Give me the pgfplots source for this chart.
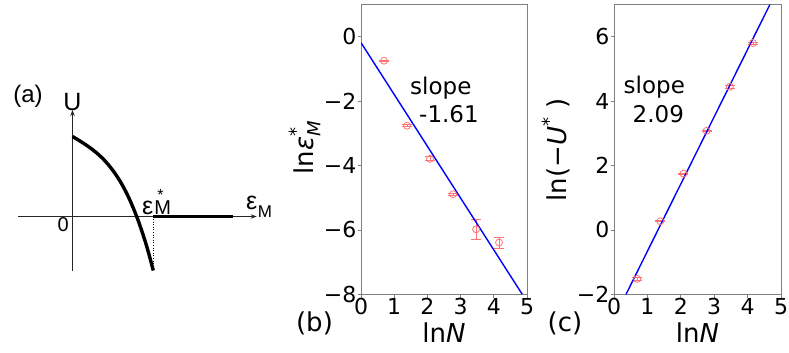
\documentclass[border=0pt]{standalone}
\usepackage{pgfplots}
\pgfplotsset{compat=1.18}
\usepackage{pgfplotstable}
\usepackage{fontspec}
\setmainfont{DejaVu Sans}
\newfontfamily\arialfont{Liberation Sans}
\usetikzlibrary{arrows.meta}

\pgfplotstableread{
x y e
0.693 -0.74 0.02
1.386 -2.76 0.03
2.079 -3.79 0.06
2.773 -4.89 0.03
3.466 -5.98 0.30
4.159 -6.39 0.17
}\dataB
\pgfplotstableread{
x y e
0.693 -1.52 0.05
1.386 0.27 0.02
2.079 1.75 0.02
2.773 3.08 0.01
3.466 4.45 0.04
4.159 5.81 0.03
}\dataC

\newcommand{\tickfont}{\fontsize{22}{24}\selectfont}
\newcommand{\labfont}{\fontsize{26}{28}\selectfont}
\newcommand{\annfont}{\fontsize{23}{25}\selectfont}

\pgfplotsset{
  panel/.style={
    scale only axis,
    anchor=south west,
    xmin=0, xmax=5,
    axis line style={black!50, line width=0.8pt},
    tick pos=left,
    tick align=outside,
    major tick length=3.5pt,
    tick style={black!50, line width=0.8pt},
    xtick={0,1,2,3,4,5},
    xticklabels={0,1,2,3,4,5},
    xticklabel style={font=\tickfont, anchor=north, inner sep=0pt, yshift=-0.5pt},
    yticklabel style={font=\tickfont, anchor=east, inner sep=0pt, xshift=-1pt},
  },
  pts/.style={
    only marks, mark=o, mark size=3.5pt, color=red!55, line width=0.8pt,
    error bars/.cd, y dir=both, y explicit,
    error mark options={rotate=90, mark size=5pt, red!55, line width=0.8pt},
    error bar style={red!55, line width=0.8pt},
  },
}

\begin{document}
\begin{tikzpicture}[x=1pt,y=1pt]
\useasboundingbox (0,0) rectangle (789,353);

% ---------- panel (a): schematic ----------
\begin{axis}[
  scale only axis, anchor=south west, at={(18pt,82pt)},
  width=238.7pt, height=161pt,
  xmin=-54.5, xmax=184.2, ymin=-54.5, ymax=106.5,
  axis lines=middle, ticks=none, clip=false,
  axis line style={black!85, line width=0.8pt, -{Stealth[length=6pt,width=4.5pt]}},
]
\addplot[black, dotted, line width=0.6pt] coordinates {(80.8,0) (80.8,-50)};
\addplot[black, line width=3.4pt, smooth] coordinates {
  (0,80) (6,76.4) (12,72.6) (18,68.4) (24,63.7) (30,58.2) (36,51.6) (42,43.8)
  (48,34.6) (54,23.5) (60,10.4) (66,-4.9) (72,-22.7) (76,-36.1) (80.8,-54)};
\addplot[black, line width=3.4pt] coordinates {(80.8,0) (160.8,0)};
\end{axis}
\node[anchor=base, inner sep=0pt] at (28,250) {\arialfont\fontsize{24}{26}\selectfont (a)};
\node[anchor=base, inner sep=0pt] at (72.5,242) {\arialfont\fontsize{25}{26}\selectfont U};
\node[anchor=base east, inner sep=0pt] at (69,121) {\arialfont\fontsize{20}{22}\selectfont 0};
\node[anchor=base west, inner sep=0pt] at (142,138.5) {\arialfont\fontsize{25}{26}\selectfont ε\kern1pt\rlap{\raisebox{14pt}{\fontsize{16}{18}\selectfont\kern3pt *}}\fontsize{20}{22}\selectfont M};
\node[anchor=base west, inner sep=0pt] at (246,143) {\arialfont\fontsize{25}{26}\selectfont ε\kern0.5pt\raisebox{-8pt}{\fontsize{17}{18}\selectfont M}};

% ---------- panel (b) ----------
\begin{axis}[panel, at={(361pt,58.7pt)}, width=166pt, height=289.6pt,
  ymin=-8, ymax=1,
  ytick={-8,-6,-4,-2,0}, yticklabels={−8,−6,−4,−2,0},
]
\addplot[pts] table[x=x, y=y, y error=e] {\dataB};
\addplot[blue, line width=1.4pt] coordinates {(0,-0.18) (4.857,-8)};
\end{axis}
\node[anchor=base west, inner sep=0pt] at (410,258) {\annfont slope};
\node[anchor=base west, inner sep=0pt] at (419,230) {\annfont -1.61};
\node[anchor=base, inner sep=0pt] at (444,10) {\labfont ln\textit{N}};
\node[anchor=base, inner sep=0pt] at (314.5,21.5) {\labfont (b)};
\node[anchor=base, inner sep=0pt, rotate=90] at (313,205) {\labfont ln\textit{ε}\rlap{\raisebox{0.42em}{\fontsize{18}{18}\selectfont *}}\raisebox{-0.28em}{\fontsize{18}{18}\selectfont\textit{M}}};

% ---------- panel (c) ----------
\begin{axis}[panel, at={(614pt,58.7pt)}, width=167pt, height=289.6pt,
  ymin=-2, ymax=7,
  ytick={-2,0,2,4,6}, yticklabels={−2,0,2,4,6},
]
\addplot[pts] table[x=x, y=y, y error=e] {\dataC};
\addplot[blue, line width=1.4pt] coordinates {(0.36,-2) (4.665,7)};
\end{axis}
\node[anchor=base west, inner sep=0pt] at (623.5,259) {\annfont slope};
\node[anchor=base west, inner sep=0pt] at (632.5,230) {\annfont 2.09};
\node[anchor=base, inner sep=0pt] at (697.5,10) {\labfont ln\textit{N}};
\node[anchor=base, inner sep=0pt] at (565,21.5) {\labfont (c)};
\node[anchor=base, inner sep=0pt, rotate=90] at (566.8,203) {\labfont ln(−\textit{U}\raisebox{0.42em}{\fontsize{18}{18}\selectfont *}\,\,)};
\end{tikzpicture}
\end{document}
